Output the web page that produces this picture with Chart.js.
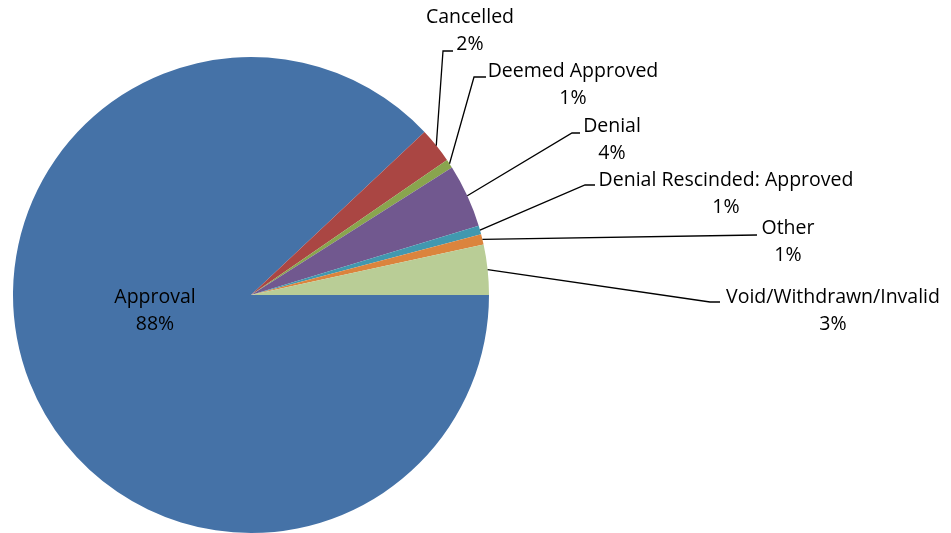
<!DOCTYPE html>
<html>
<head>
<meta charset="utf-8">
<script src="https://cdn.jsdelivr.net/npm/chart.js@4/dist/chart.umd.min.js"></script>
<style>
  html, body { margin: 0; padding: 0; background: #fff; }
  #wrap { width: 951px; height: 533px; position: relative; }
</style>
</head>
<body>
<div id="wrap"><canvas id="myChart"></canvas></div>
<script>
// data (share of requests, %)
const categories = ['Approval', 'Cancelled', 'Deemed Approved', 'Denial',
    'Denial Rescinded: Approved', 'Other', 'Void/Withdrawn/Invalid'];
const shares = [88.0, 2.4, 0.6, 4.3, 0.6, 0.7, 3.4];
const sliceColors = ['#4572A7', '#AA4643', '#89A54E', '#71588F', '#4198AF', '#DB843D', '#B9CD96'];

// where each label sits (centre x, first line y) and how its leader line bends
const labelLayout = [
    { x: 155, y: 297, line: null },                              // Approval, inside
    { x: 470, y: 17, line: { ex: 443, ey: 51, tx: 453 } },
    { x: 573, y: 71, line: { ex: 474, ey: 77, tx: 486 } },
    { x: 612, y: 126, line: { ex: 572, ey: 133, tx: 580 } },
    { x: 726, y: 180, line: { ex: 585, ey: 185, tx: 595 } },
    { x: 788, y: 228, line: { ex: 757, ey: 235, tx: 757 } },
    { x: 833, y: 297, line: { ex: 710, ey: 302, tx: 720 } }
];

const labelPlugin = {
    id: 'pieLabels',
    afterDatasetsDraw(chart) {
        const ctx = chart.ctx;
        const arcs = chart.getDatasetMeta(0).data;
        const total = shares.reduce((a, b) => a + b, 0);
        ctx.save();
        ctx.font = '19.5px "Open Sans", sans-serif';
        ctx.fillStyle = '#000';
        ctx.textAlign = 'center';
        ctx.textBaseline = 'middle';
        arcs.forEach((arc, i) => {
            const lay = labelLayout[i];
            const p = arc.getProps(['x', 'y', 'startAngle', 'endAngle', 'outerRadius'], true);
            if (lay.line) {
                const mid = (p.startAngle + p.endAngle) / 2;
                const sx = p.x + Math.cos(mid) * p.outerRadius;
                const sy = p.y + Math.sin(mid) * p.outerRadius;
                ctx.beginPath();
                ctx.strokeStyle = '#000';
                ctx.lineWidth = 1.3;
                ctx.moveTo(sx, sy);
                ctx.lineTo(lay.line.ex, lay.line.ey);
                ctx.lineTo(lay.line.tx, lay.line.ey);
                ctx.stroke();
            }
            const pct = Math.round(shares[i] / total * 100) + '%';
            ctx.fillText(categories[i], lay.x, lay.y);
            ctx.fillText(pct, lay.x, lay.y + 27);
        });
        ctx.restore();
    }
};

const chart = new Chart(document.getElementById('myChart').getContext('2d'), {
    type: 'pie',
    data: {
        labels: categories,
        datasets: [{
            data: shares,
            backgroundColor: sliceColors,
            borderWidth: 0
        }]
    },
    options: {
        responsive: true,
        maintainAspectRatio: false,
        animation: false,
        rotation: 90,
        layout: { padding: { left: 13, right: 462, top: 57, bottom: 0 } },
        plugins: {
            legend: { display: false },
            tooltip: { enabled: false }
        }
    },
    plugins: [labelPlugin]
});
</script>
</body>
</html>
